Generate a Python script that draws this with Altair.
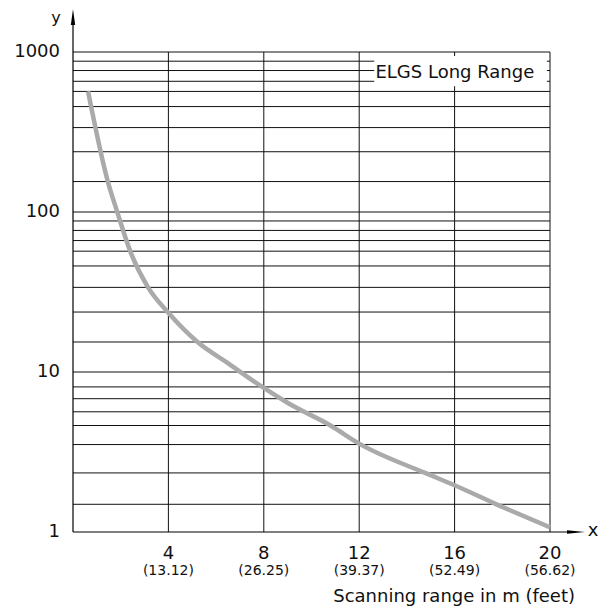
import altair as alt
import pandas as pd

# ---- data ----
curve_x = [0.63, 1.46, 1.85, 2.41, 3.14, 3.98, 5.22, 6.48, 7.89, 9.01, 10.83, 11.98, 14.76, 16.0, 17.71, 20.0]
curve_y = [568, 155, 100.6, 56.3, 33.9, 23.6, 15.4, 11.4, 8.15, 6.40, 4.60, 3.58, 2.34, 1.96, 1.50, 1.07]

grid_y = [1000, 876, 766, 656, 567, 456, 337, 238, 155,
          100, 87.9, 76.7, 66.3, 56.9, 46.0, 33.8, 23.7, 15.4,
          10, 8.07, 6.81, 5.64, 4.63, 3.52, 2.34, 1.49]
grid_x = [4, 8, 12, 16, 20]

x_ticks = [4, 8, 12, 16, 20]
x_feet = ["(13.12)", "(26.25)", "(39.37)", "(52.49)", "(56.62)"]
y_ticks = [1, 10, 100, 1000]
y_tick_labels = ["1", "10", "100", "1000"]

series_label = "ELGS Long Range"
x_title = "Scanning range in m (feet)"

W, H = 477, 480
FONT = "DejaVu Sans"

xs = alt.Scale(domain=[0, 20], nice=False, zero=False)
ys = alt.Scale(type="log", domain=[1, 1000], nice=False)

curve_df = pd.DataFrame({"x": curve_x, "y": curve_y})
hgrid_df = pd.DataFrame({"y": grid_y, "x0": [0] * len(grid_y), "x1": [20] * len(grid_y)})
vgrid_df = pd.DataFrame({"x": grid_x, "y0": [1] * len(grid_x), "y1": [1000] * len(grid_x)})
xt_df = pd.DataFrame({"x": x_ticks, "lab": [str(v) for v in x_ticks], "feet": x_feet})
yt_df = pd.DataFrame({"y": y_ticks, "lab": y_tick_labels})
box_df = pd.DataFrame({"x0": [12.63], "x1": [19.87], "y0": [611], "y1": [943],
                       "tx": [12.68], "ty": [737], "t": [series_label]})
one = pd.DataFrame({"a": [0]})

hgrid = alt.Chart(hgrid_df).mark_rule(color="#111111", strokeWidth=1).encode(
    x=alt.X("x0:Q", scale=xs, axis=None), x2="x1:Q",
    y=alt.Y("y:Q", scale=ys, axis=None))
vgrid = alt.Chart(vgrid_df).mark_rule(color="#111111", strokeWidth=1).encode(
    x=alt.X("x:Q", scale=xs, axis=None),
    y=alt.Y("y0:Q", scale=ys, axis=None), y2="y1:Q")

box = alt.Chart(box_df).mark_rect(color="white", opacity=1).encode(
    x=alt.X("x0:Q", scale=xs, axis=None), x2="x1:Q",
    y=alt.Y("y0:Q", scale=ys, axis=None), y2="y1:Q")
box_text = alt.Chart(box_df).mark_text(align="left", baseline="middle", fontSize=18,
                                       font=FONT, color="#111111").encode(
    x=alt.X("tx:Q", scale=xs, axis=None), y=alt.Y("ty:Q", scale=ys, axis=None), text="t:N")

curve = alt.Chart(curve_df).mark_line(color="#aaaaaa", strokeWidth=4.5,
                                       interpolate="monotone", strokeCap="butt").encode(
    x=alt.X("x:Q", scale=xs, axis=None), y=alt.Y("y:Q", scale=ys, axis=None))

y_axis = alt.Chart(one).mark_rule(color="black", strokeWidth=1.2).encode(
    x=alt.value(0), y=alt.value(-28), y2=alt.value(H))
x_axis = alt.Chart(one).mark_rule(color="black", strokeWidth=1.2).encode(
    x=alt.value(0), x2=alt.value(496), y=alt.value(H))
y_arrow = alt.Chart(one).mark_point(shape="M0,-1L0.27,1L-0.27,1Z", filled=True, size=256,
                                    color="black", opacity=1, strokeWidth=0).encode(
    x=alt.value(0), y=alt.value(-35))
x_arrow = alt.Chart(one).mark_point(shape="M1,0L-1,-0.2L-1,0.2Z", filled=True, size=324,
                                    color="black", opacity=1, strokeWidth=0).encode(
    x=alt.value(503), y=alt.value(H))
y_name = alt.Chart(one).mark_text(text="y", fontSize=16, font=FONT, align="center",
                                  baseline="alphabetic", color="#111111").encode(
    x=alt.value(-17), y=alt.value(-29))
x_name = alt.Chart(one).mark_text(text="x", fontSize=18, font=FONT, align="center",
                                  baseline="middle", color="#111111").encode(
    x=alt.value(520), y=alt.value(H - 1))

ylabels = alt.Chart(yt_df).mark_text(align="right", baseline="middle", fontSize=18,
                                     font=FONT, color="#111111").encode(
    x=alt.value(-13), y=alt.Y("y:Q", scale=ys, axis=None), text="lab:N")
xlabels = alt.Chart(xt_df).mark_text(align="center", baseline="middle", fontSize=18,
                                     font=FONT, color="#111111").encode(
    x=alt.X("x:Q", scale=xs, axis=None), y=alt.value(H + 22), text="lab:N")
xfeet = alt.Chart(xt_df).mark_text(align="center", baseline="middle", fontSize=14,
                                   font=FONT, color="#111111").encode(
    x=alt.X("x:Q", scale=xs, axis=None), y=alt.value(H + 39), text="feet:N")
xtitle = alt.Chart(one).mark_text(text=x_title, align="right", baseline="middle", fontSize=18,
                                  font=FONT, color="#111111").encode(
    x=alt.value(502), y=alt.value(H + 65))

chart = alt.layer(
    hgrid, vgrid, box, box_text, curve, y_axis, x_axis, y_arrow, x_arrow,
    y_name, x_name, ylabels, xlabels, xfeet, xtitle
).properties(
    width=W, height=H,
    autosize=alt.AutoSizeParams(type="none"),
    padding={"left": 65, "top": 44, "right": 56, "bottom": 74},
    background="white",
).configure_view(stroke=None)

chart.save("out.html", embed_options={"renderer": "svg", "actions": False})
